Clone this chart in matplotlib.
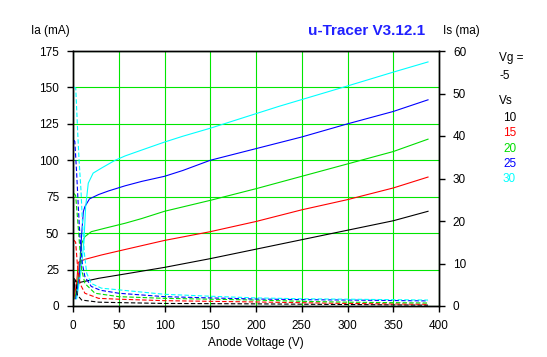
import matplotlib
matplotlib.use("Agg")
import matplotlib.pyplot as plt

plt.rcParams['font.family'] = ['Liberation Sans', 'DejaVu Sans']
plt.rcParams['font.size'] = 8.5

# screen voltages and colours
vs_labels = ['10', '15', '20', '25', '30']
colors = ['#000000', '#ff0000', '#00dd00', '#0000ff', '#00ffff']

# anode current Ia (mA), left axis
ia_va = [
    [1, 2, 6, 28, 57, 100, 150, 200, 250, 300, 350, 388],
    [1, 4, 5.8, 13, 31, 55, 100, 150, 200, 250, 300, 350, 388],
    [2, 5, 8, 9.5, 13, 20, 35, 57, 75, 100, 150, 200, 250, 300, 350, 388],
    [3, 7, 9, 11.3, 13, 18, 28, 39, 57, 75, 100, 120, 150, 200, 250, 300, 350, 388],
    [4, 9, 12, 13.8, 16.7, 22, 31, 46, 57, 75, 100, 120, 150, 180, 225, 300, 350, 388],
]
ia = [
    [8, 17.5, 16, 19, 22, 26.5, 32.5, 39, 45.5, 52, 58.5, 65],
    [5, 15.8, 30, 32, 35, 38.5, 45, 51, 58, 66, 73, 81, 88.5],
    [5, 15, 33, 43, 47.6, 51, 53.4, 56.8, 60, 65, 72.5, 80.5, 89, 97.5, 106, 114.5],
    [5, 20, 45, 64.8, 68.2, 73.5, 76.5, 79, 82.5, 85.5, 89, 93, 100, 108, 116, 125, 133.5, 141.5],
    [5, 25, 45, 68, 84.3, 91.2, 94.6, 100, 103, 107, 112.5, 116.5, 122, 128, 137, 151, 160.5, 167.5],
]

# screen current Is (mA), right axis
is_va = [
    [1, 2.9, 4.7, 9.5, 28, 50, 100, 200, 300, 388],
    [1, 2.9, 4.7, 7.6, 13, 28, 50, 100, 200, 300, 388],
    [1, 2.9, 5.1, 7.3, 9.5, 13, 24, 50, 100, 150, 200, 250, 300, 388],
    [1, 2, 4, 5.8, 7.6, 10.2, 13, 20, 30, 50, 100, 150, 200, 250, 300, 388],
    [1, 3, 5, 6.6, 8.7, 10.2, 12.4, 15, 20, 31, 50, 100, 150, 200, 250, 300, 388],
]
is_ma = [
    [6.5, 6, 2.6, 1.4, 0.9, 0.8, 0.6, 0.5, 0.35, 0.2],
    [15.5, 15, 10, 5.3, 3.0, 1.8, 1.6, 1.25, 0.95, 0.6, 0.4],
    [26.5, 26, 20.3, 14, 8.5, 5.3, 3.0, 2.2, 1.8, 1.6, 1.4, 1.1, 0.9, 0.7],
    [39, 38.7, 31.2, 23.4, 16.3, 10, 6.9, 4.6, 3.7, 3.0, 2.2, 1.9, 1.65, 1.5, 1.4, 1.2],
    [51.5, 51.3, 41.5, 34.4, 27.3, 20.3, 12.4, 7.7, 5.3, 4.2, 3.8, 2.75, 2.3, 1.9, 1.7, 1.6, 1.4],
]

fig = plt.figure(figsize=(5.47, 3.57), dpi=100)
ax = fig.add_axes([73/547, 51/357, 366/547, 255/357])
ax2 = ax.twinx()

for i in range(len(vs_labels)):
    ax.plot(ia_va[i], ia[i], color=colors[i], lw=0.8)
    ax2.plot(is_va[i], is_ma[i], color=colors[i], lw=0.8, dashes=(4, 2))

ax.set_xlim(0, 400)
ax.set_ylim(0, 175)
ax2.set_ylim(0, 60)
ax.set_xticks(range(0, 401, 50))
ax.set_yticks(range(0, 176, 25))
ax2.set_yticks(range(0, 61, 10))
ax.grid(True, color='#00e600', lw=0.8)
ax.set_axisbelow(True)

for a in (ax, ax2):
    for s in a.spines.values():
        s.set_color('black')
        s.set_linewidth(1.0)
    a.tick_params(length=4, width=1, colors='black', labelsize=8.5, pad=6)

ax.set_xlabel('Anode Voltage (V)', fontsize=8.5, labelpad=4)

fig.text(50/547, 1 - 31/357, 'Ia (mA)', ha='center', va='center', fontsize=8.5)
fig.text(461/547, 1 - 31/357, 'Is (ma)', ha='center', va='center', fontsize=8.5)
fig.text(367/547, 1 - 31/357, 'u-Tracer V3.12.1', ha='center', va='center',
         fontsize=11, color='#2020ff', fontweight='bold')
fig.text(499/547, 1 - 58/357, 'Vg =', ha='left', va='center', fontsize=8.5)
fig.text(499/547, 1 - 76/357, '-5', ha='left', va='center', fontsize=8.5)
fig.text(499/547, 1 - 101/357, 'Vs', ha='left', va='center', fontsize=8.5)
for i, lab in enumerate(vs_labels):
    fig.text(503/547, 1 - (118 + 15.3*i)/357, lab, ha='left', va='center',
             fontsize=8.5, color=colors[i])

fig.savefig('out.png', dpi=100, facecolor='white')
